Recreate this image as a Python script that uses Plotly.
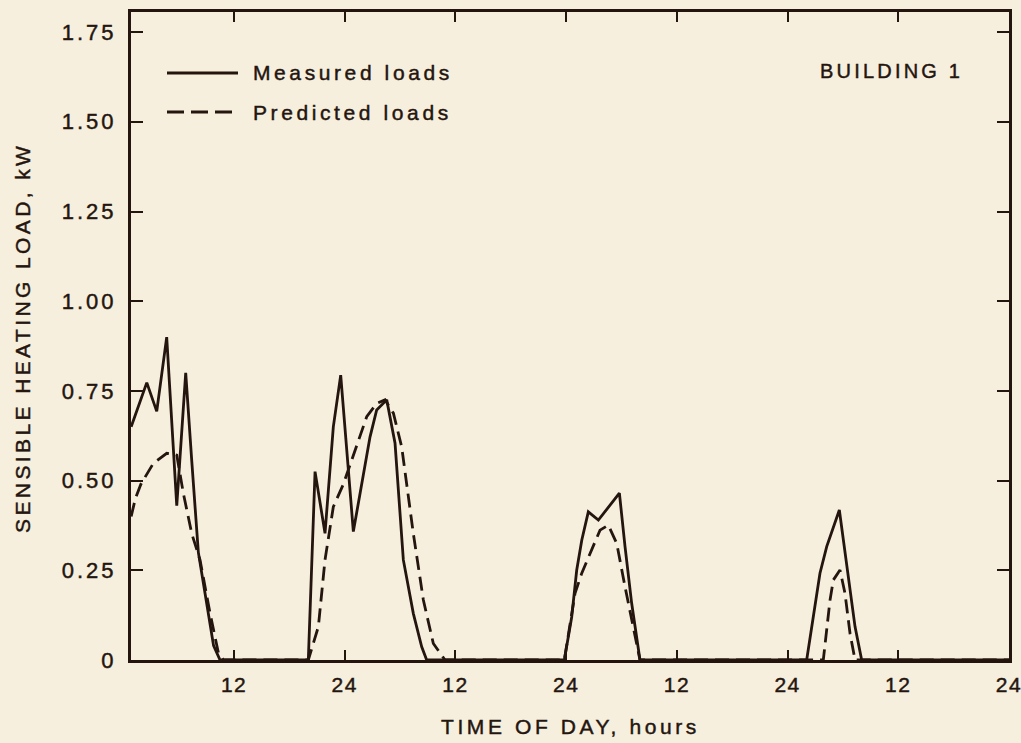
import plotly.graph_objects as go

# ---- data (hours from start of record, sensible heating load in kW) ----
measured_hours = [0.85, 2.54, 3.62, 4.70, 5.79, 6.76, 7.41, 8.13, 8.85, 9.78, 10.48,
                  20.05, 20.78, 21.86, 22.76, 23.56, 24.93, 26.74, 27.46, 28.55, 29.45, 30.35, 31.43, 32.34, 32.88,
                  47.8, 48.6, 49.14, 49.69, 50.4, 51.49, 52.57, 53.77, 54.38, 55.1, 56.0,
                  74.07, 75.51, 76.24, 77.61, 78.41, 79.31, 80.03, 96.0]
measured_kw = [0.65, 0.773, 0.693, 0.90, 0.43, 0.80, 0.557, 0.30, 0.187, 0.04, 0.0,
               0.0, 0.525, 0.353, 0.65, 0.794, 0.358, 0.622, 0.697, 0.725, 0.604, 0.279, 0.13, 0.037, 0.0,
               0.0, 0.12, 0.25, 0.334, 0.413, 0.39, 0.427, 0.465, 0.316, 0.158, 0.0,
               0.0, 0.242, 0.316, 0.418, 0.26, 0.093, 0.0, 0.0]

predicted_hours = [0.85, 1.3, 1.9, 3.25, 4.70, 5.79, 6.5, 7.41, 8.31, 9.40, 10.3, 10.84,
                   20.05, 21.14, 21.86, 22.76, 23.85, 24.39, 25.3, 26.38, 27.46, 28.37, 29.27, 30.17, 31.43, 32.52, 33.6, 34.87,
                   47.8, 48.96, 49.69, 50.58, 51.67, 52.57, 53.48, 54.38, 55.28, 56.0,
                   75.87, 76.6, 76.96, 77.68, 78.22, 78.77, 79.31, 96.0]
predicted_kw = [0.40, 0.45, 0.49, 0.548, 0.576, 0.571, 0.465, 0.353, 0.279, 0.13, 0.02, 0.0,
                0.0, 0.093, 0.279, 0.427, 0.49, 0.53, 0.594, 0.678, 0.715, 0.725, 0.688, 0.594, 0.353, 0.167, 0.046, 0.0,
                0.0, 0.186, 0.242, 0.297, 0.362, 0.376, 0.325, 0.204, 0.093, 0.0,
                0.0, 0.167, 0.223, 0.251, 0.186, 0.074, 0.0, 0.0]

x_tick_vals = [12, 24, 36, 48, 60, 72, 84, 96]
x_tick_text = ["12", "24", "12", "24", "12", "24", "12", "24"]
y_tick_vals = [0, 0.25, 0.5, 0.75, 1.0, 1.25, 1.5, 1.75]
y_tick_text = ["0", "0.25", "0.50", "0.75", "1.00", "1.25", "1.50", "1.75"]

series_names = ["Measured loads", "Predicted loads"]
panel_label = "BUILDING 1"
x_title = "TIME OF DAY, hours"
y_title = "SENSIBLE HEATING LOAD, kW"

# ---- styling ----
INK = "#24150f"
BG = "#f6efdd"
FONT = "Liberation Sans, Arial, sans-serif"
HEAVY = "stroke:#24150f;stroke-width:0.45px;"
DASH = "14px,7px"


def spaced(t, sp=3.0):
    return f'<span style="letter-spacing:{sp}px;{HEAVY}">{t}</span>'


fig = go.Figure()
fig.add_trace(go.Scatter(x=measured_hours, y=measured_kw, mode="lines",
                         name=series_names[0], showlegend=False,
                         line=dict(color=INK, width=2.8)))
fig.add_trace(go.Scatter(x=predicted_hours, y=predicted_kw, mode="lines",
                         name=series_names[1], showlegend=False,
                         line=dict(color=INK, width=2.8, dash=DASH)))

W, H = 1021, 743
L, R, T, B = 131, 12, 12, 83
pw, ph = W - L - R, H - T - B


def px2paper(px, py):
    return (px - L) / pw, (H - B - py) / ph


# legend drawn as shapes + annotations (wide sample lines like the original)
for i, (py, dash) in enumerate([(73, "solid"), (112, "17px,7px")]):
    x0, y0 = px2paper(167, py)
    x1, _ = px2paper(238, py)
    fig.add_shape(type="line", xref="paper", yref="paper", x0=x0, x1=x1, y0=y0, y1=y0,
                  line=dict(color=INK, width=2.8, dash=dash))
    tx, ty = px2paper(251, py)
    fig.add_annotation(xref="paper", yref="paper", x=tx, y=ty, xanchor="left", yanchor="middle",
                       text=spaced(series_names[i], 3.6), showarrow=False,
                       font=dict(family=FONT, size=21, color=INK))

bx, by = px2paper(818, 71)
fig.add_annotation(xref="paper", yref="paper", x=bx, y=by, xanchor="left", yanchor="middle",
                   text=spaced(panel_label, 3.2), showarrow=False,
                   font=dict(family=FONT, size=20, color=INK))

tx, ty = px2paper(570, 726)
fig.add_annotation(xref="paper", yref="paper", x=tx, y=ty, xanchor="center", yanchor="middle",
                   text=spaced(x_title, 3.6), showarrow=False,
                   font=dict(family=FONT, size=21, color=INK))
tx, ty = px2paper(22, 338)
fig.add_annotation(xref="paper", yref="paper", x=tx, y=ty, xanchor="center", yanchor="middle",
                   text=spaced(y_title, 3.4), showarrow=False, textangle=-90,
                   font=dict(family=FONT, size=21, color=INK))

fig.update_layout(
    width=W, height=H,
    margin=dict(l=L, r=R, t=T, b=B, autoexpand=False),
    paper_bgcolor=BG, plot_bgcolor=BG,
    font=dict(family=FONT, color=INK, size=21),
    showlegend=False,
)
fig.update_xaxes(range=[0.83, 96], tickmode="array", tickvals=x_tick_vals,
                 ticktext=[spaced(t, 1.5) for t in x_tick_text],
                 ticks="inside", ticklen=10, tickwidth=2, tickcolor=INK,
                 showline=True, linewidth=3, linecolor=INK, mirror="ticks",
                 showgrid=False, zeroline=False, ticklabelstandoff=4, automargin=False,
                 ticklabeloverflow="allow",
                 tickfont=dict(family=FONT, size=21, color=INK))
fig.update_yaxes(range=[0, 1.806], tickmode="array", tickvals=y_tick_vals,
                 ticktext=[spaced(t, 3) for t in y_tick_text],
                 ticks="inside", ticklen=12, tickwidth=2, tickcolor=INK,
                 showline=True, linewidth=3, linecolor=INK, mirror="ticks",
                 showgrid=False, zeroline=False, ticklabelstandoff=7, automargin=False,
                 ticklabeloverflow="allow",
                 tickfont=dict(family=FONT, size=22, color=INK))

fig.write_html("out.html")
